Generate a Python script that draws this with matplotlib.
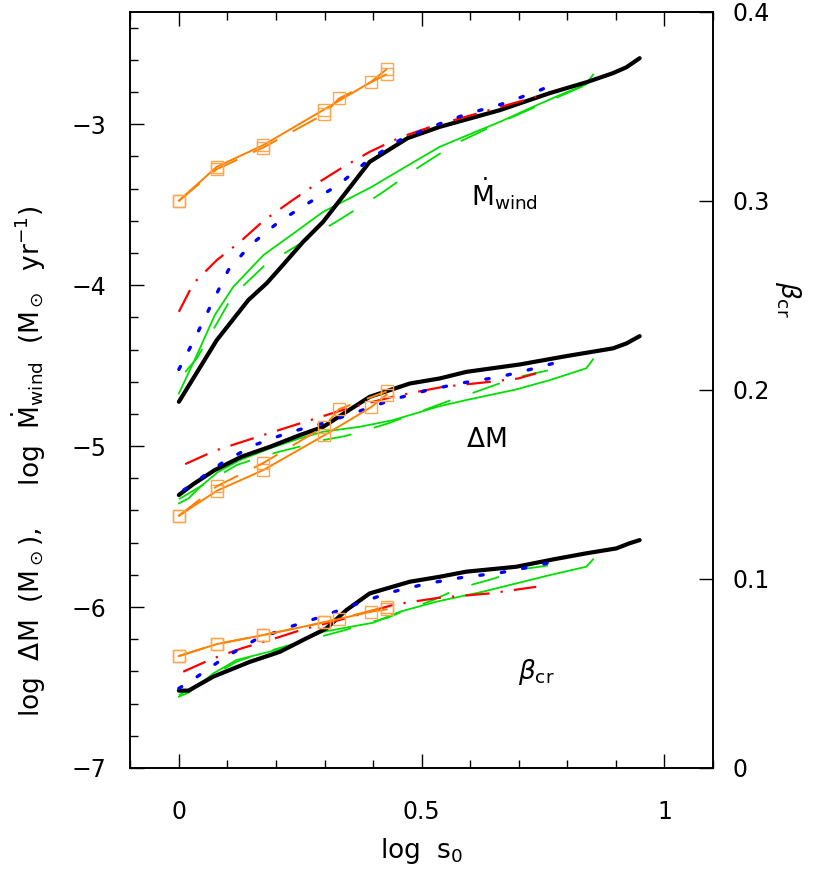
import matplotlib
matplotlib.use('Agg')
import matplotlib.pyplot as plt
from matplotlib.ticker import MultipleLocator, FuncFormatter

plt.rcParams['font.family'] = ['DejaVu Sans']
plt.rcParams['mathtext.fontset'] = 'dejavusans'

# ---- Mdot_wind (left axis) ----
mw_black_x = [0.0, 0.078, 0.143, 0.181, 0.214, 0.256, 0.297, 0.393, 0.471, 0.537, 0.661, 0.764, 0.84, 0.894, 0.922, 0.949]
mw_black_y = [-4.725, -4.342, -4.093, -3.988, -3.876, -3.731, -3.607, -3.234, -3.087, -3.017, -2.913, -2.807, -2.739, -2.683, -2.646, -2.59]
mw_red_x = [0.0, 0.03, 0.078, 0.126, 0.174, 0.229, 0.284, 0.339, 0.393, 0.455, 0.523, 0.626, 0.736]
mw_red_y = [-4.166, -3.989, -3.845, -3.731, -3.601, -3.483, -3.369, -3.265, -3.172, -3.083, -3.012, -2.924, -2.83]
mw_blue_x = [0.0, 0.033, 0.064, 0.102, 0.147, 0.205, 0.266, 0.328, 0.39, 0.455, 0.524, 0.592, 0.664, 0.736, 0.771]
mw_blue_y = [-4.524, -4.331, -4.138, -3.906, -3.752, -3.609, -3.491, -3.379, -3.224, -3.099, -3.012, -2.938, -2.876, -2.799, -2.753]
mw_green_x = [0.0, 0.037, 0.074, 0.112, 0.174, 0.236, 0.297, 0.397, 0.455, 0.537, 0.606, 0.661, 0.729, 0.784, 0.839, 0.853]
mw_green_y = [-4.673, -4.435, -4.186, -4.011, -3.814, -3.679, -3.545, -3.39, -3.286, -3.141, -3.054, -2.986, -2.893, -2.82, -2.752, -2.692]
mw_gdash_x = [0.013, 0.037, 0.11, 0.177, 0.256, 0.335, 0.414, 0.49, 0.568, 0.661, 0.729, 0.839]
mw_gdash_y = [-4.54, -4.455, -4.07, -3.876, -3.731, -3.586, -3.435, -3.275, -3.124, -2.99, -2.9, -2.755]
mw_orange_x = [0.0, 0.078, 0.174, 0.299, 0.395, 0.428]
mw_orange_y = [-3.476, -3.265, -3.13, -2.909, -2.739, -2.658]
mw_odash_x = [0.0, 0.078, 0.174, 0.299, 0.33, 0.428]
mw_odash_y = [-3.476, -3.28, -3.145, -2.938, -2.84, -2.69]

# ---- Delta M (left axis) ----
dm_black_x = [0.0, 0.03, 0.074, 0.129, 0.188, 0.249, 0.297, 0.345, 0.393, 0.476, 0.537, 0.592, 0.702, 0.798, 0.894, 0.922, 0.949]
dm_black_y = [-5.304, -5.236, -5.149, -5.066, -5.004, -4.932, -4.881, -4.787, -4.694, -4.611, -4.58, -4.539, -4.493, -4.441, -4.393, -4.362, -4.317]
dm_red_x = [0.013, 0.074, 0.167, 0.26, 0.352, 0.448, 0.544, 0.64, 0.699, 0.736]
dm_red_y = [-5.112, -5.029, -4.938, -4.849, -4.762, -4.688, -4.632, -4.601, -4.58, -4.548]
dm_blue_x = [0.01, 0.03, 0.092, 0.157, 0.227, 0.301, 0.371, 0.441, 0.513, 0.585, 0.661, 0.733, 0.771]
dm_blue_y = [-5.273, -5.232, -5.098, -4.992, -4.915, -4.855, -4.784, -4.71, -4.652, -4.607, -4.57, -4.517, -4.486]
dm_green_x = [0.0, 0.02, 0.044, 0.081, 0.126, 0.188, 0.249, 0.297, 0.373, 0.441, 0.537, 0.592, 0.695, 0.764, 0.839, 0.853]
dm_green_y = [-5.356, -5.325, -5.253, -5.16, -5.087, -5.014, -4.952, -4.911, -4.88, -4.839, -4.752, -4.714, -4.648, -4.59, -4.517, -4.461]
dm_gdash_x = [0.0, 0.119, 0.163, 0.207, 0.253, 0.297, 0.342, 0.386, 0.431, 0.561, 0.606, 0.651, 0.695, 0.76]
dm_gdash_y = [-5.33, -5.118, -5.073, -5.035, -5.0, -4.963, -4.938, -4.901, -4.859, -4.714, -4.669, -4.621, -4.573, -4.53]
dm_orange_x = [0.0, 0.078, 0.174, 0.299, 0.395, 0.428]
dm_orange_y = [-5.433, -5.278, -5.149, -4.934, -4.76, -4.68]
dm_odash_x = [0.0, 0.078, 0.174, 0.299, 0.33, 0.428]
dm_odash_y = [-5.433, -5.25, -5.105, -4.88, -4.77, -4.66]

# ---- beta_cr (right axis) ----
b_black_x = [0.0, 0.02, 0.071, 0.146, 0.208, 0.256, 0.304, 0.345, 0.393, 0.476, 0.537, 0.592, 0.695, 0.771, 0.839, 0.901, 0.928, 0.949]
b_black_y = [0.0409, 0.0409, 0.0483, 0.0561, 0.0614, 0.0677, 0.0738, 0.0835, 0.0923, 0.0985, 0.1011, 0.1038, 0.1064, 0.1103, 0.1135, 0.1161, 0.1188, 0.1205]
b_red_x = [0.009, 0.071, 0.13, 0.194, 0.256, 0.352, 0.445, 0.533, 0.64, 0.736]
b_red_y = [0.0509, 0.058, 0.0633, 0.0682, 0.0733, 0.0797, 0.0865, 0.0899, 0.0923, 0.0958]
b_blue_x = [0.0, 0.03, 0.092, 0.157, 0.226, 0.297, 0.369, 0.436, 0.513, 0.585, 0.661, 0.733, 0.771]
b_blue_y = [0.0421, 0.0469, 0.058, 0.0677, 0.0744, 0.0803, 0.087, 0.0929, 0.0976, 0.1008, 0.1032, 0.1068, 0.109]
b_green_x = [0.0, 0.02, 0.071, 0.119, 0.215, 0.297, 0.4, 0.455, 0.53, 0.626, 0.695, 0.764, 0.839, 0.853]
b_green_y = [0.0377, 0.0398, 0.05, 0.0571, 0.0633, 0.072, 0.0768, 0.0826, 0.0879, 0.0932, 0.0976, 0.102, 0.1064, 0.1103]
b_gdash_x = [0.0, 0.119, 0.163, 0.212, 0.253, 0.297, 0.342, 0.386, 0.43, 0.476, 0.524, 0.561, 0.606, 0.651, 0.695, 0.76]
b_gdash_y = [0.0385, 0.0562, 0.0601, 0.0638, 0.0668, 0.0698, 0.0729, 0.0765, 0.0794, 0.0844, 0.0888, 0.0932, 0.0971, 0.1003, 0.1047, 0.107]
b_orange_x = [0.0, 0.078, 0.174, 0.299, 0.395, 0.428]
b_orange_y = [0.0592, 0.0655, 0.0703, 0.077, 0.0826, 0.0839]
b_odash_x = [0.0, 0.078, 0.174, 0.299, 0.33, 0.428]
b_odash_y = [0.0592, 0.0655, 0.0703, 0.077, 0.0789, 0.0853]

# Styles ----
black = dict(color='black', lw=3.0, solid_capstyle='round', zorder=3)
red = dict(color='#ff0000', lw=1.6, dashes=(11, 5, 1, 5), zorder=4)
blue = dict(color='#0000ff', lw=2.4, dashes=(1.0, 5.5), dash_capstyle='round', zorder=4)
green = dict(color='#00e000', lw=1.3, zorder=2)
gdash = dict(color='#00e000', lw=1.3, dashes=(16, 13), zorder=2)
orange = dict(color='#ff8000', lw=1.4, marker='s', ms=8.5, mfc='none',
              mec='#ffa64d', mew=1.0, zorder=5)
odash = dict(color='#ff8000', lw=1.4, dashes=(14, 9), marker='s', ms=8.5, mfc='none',
             mec='#ffa64d', mew=1.0, zorder=5)

fig = plt.figure(figsize=(8.3, 8.72), dpi=100)
ax = fig.add_axes([0.157, 0.1193, 0.702, 0.8675])
ax2 = ax.twinx()

# Plot ----
for xs, ys, st in [(mw_green_x, mw_green_y, green), (mw_gdash_x, mw_gdash_y, gdash),
                   (mw_black_x, mw_black_y, black), (mw_red_x, mw_red_y, red),
                   (mw_blue_x, mw_blue_y, blue), (mw_orange_x, mw_orange_y, orange),
                   (mw_odash_x, mw_odash_y, odash),
                   (dm_green_x, dm_green_y, green), (dm_gdash_x, dm_gdash_y, gdash),
                   (dm_black_x, dm_black_y, black), (dm_red_x, dm_red_y, red),
                   (dm_blue_x, dm_blue_y, blue), (dm_orange_x, dm_orange_y, orange),
                   (dm_odash_x, dm_odash_y, odash)]:
    ax.plot(xs, ys, **st)

for xs, ys, st in [(b_green_x, b_green_y, green), (b_gdash_x, b_gdash_y, gdash),
                   (b_black_x, b_black_y, black), (b_red_x, b_red_y, red),
                   (b_blue_x, b_blue_y, blue), (b_orange_x, b_orange_y, orange),
                   (b_odash_x, b_odash_y, odash)]:
    ax2.plot(xs, ys, **st)

# Axes ----
ax.set_xlim(-0.1, 1.1)
ax.set_ylim(-7, -2.3)
ax2.set_ylim(0, 0.4)

ax.xaxis.set_major_locator(MultipleLocator(0.5))
ax.xaxis.set_minor_locator(MultipleLocator(0.1))
ax.yaxis.set_major_locator(MultipleLocator(1))
ax.yaxis.set_minor_locator(MultipleLocator(0.2))
ax2.yaxis.set_major_locator(MultipleLocator(0.1))
ax.xaxis.set_major_formatter(FuncFormatter(lambda v, p: '%g' % v))
ax2.yaxis.set_major_formatter(FuncFormatter(lambda v, p: '%g' % v))

ax.tick_params(which='both', direction='in', top=True, right=False, width=1.0, labelsize=17)
ax.tick_params(which='major', length=10)
ax.tick_params(which='minor', length=6)
ax.tick_params(axis='x', which='major', pad=23)
ax.tick_params(axis='y', which='major', pad=17)
ax2.tick_params(which='both', direction='in', width=1.0, length=10, labelsize=17, pad=14)
for a in (ax, ax2):
    for s in a.spines.values():
        s.set_linewidth(1.2)

ax.set_xlabel(r'log  s$_0$', fontsize=19, labelpad=9)
ax.set_ylabel(r'log  $\Delta$M  (M$_\odot$),     log  $\dot{\rm M}_{\rm wind}$  (M$_\odot$  yr$^{-1}$)',
              fontsize=19)
ax.yaxis.set_label_coords(-0.142, 0.405)
ax2.set_ylabel(r'$\beta_{\rm cr}$', fontsize=19, rotation=270)
ax2.yaxis.set_label_coords(1.155, 0.62)

ax.text(0.601, -3.503, r'$\dot{\rm M}_{\rm wind}$', fontsize=19, va='baseline')
ax.text(0.592, -5.006, r'$\Delta$M', fontsize=19, va='baseline')
ax.text(0.698, -6.45, r'$\beta_{\rm cr}$', fontsize=19, va='baseline')

fig.savefig('out.png', dpi=100)
